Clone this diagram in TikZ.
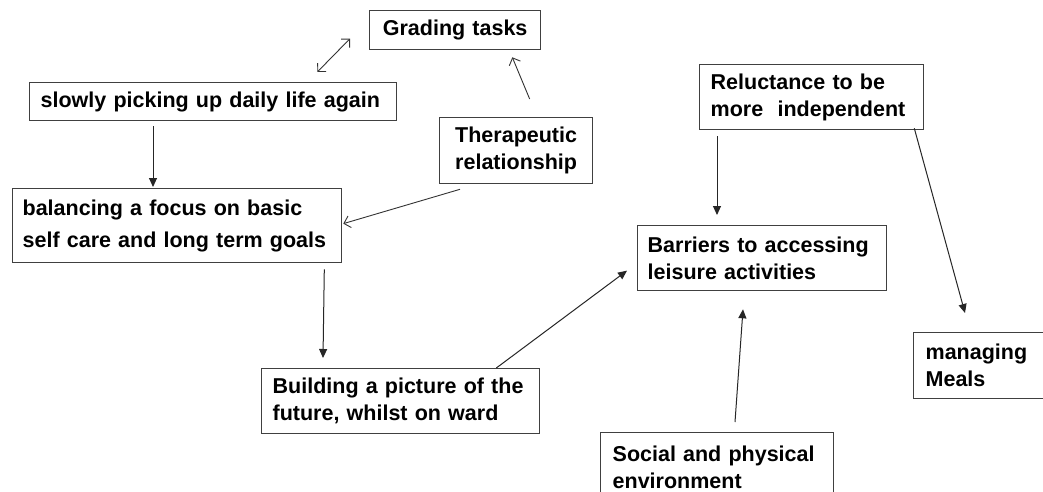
\documentclass[tikz,border=0pt]{standalone}
\usepackage{fontspec}
\setmainfont{Liberation Sans}
\usetikzlibrary{arrows.meta}
\newcommand{\ind}[1][11pt]{\hspace*{#1}}
\begin{document}
\begin{tikzpicture}[x=1pt,y=-1pt,
  box/.style={draw=black!75, line width=1.3pt, anchor=north west, inner xsep=0pt, inner ysep=0pt,
    font=\bfseries\fontsize{21.5}{27}\selectfont, align=left},
  fa/.style={draw=black!85, line width=1pt, -{Triangle[length=9pt,width=8pt]}},
  oa/.style={draw=black!80, line width=0.9pt, -{Straight Barb[length=6pt,width=12pt]}},
  oaa/.style={draw=black!80, line width=0.9pt, {Straight Barb[length=6pt,width=12pt]}-{Straight Barb[length=6pt,width=12pt]}},
]
\clip (0,0) rectangle (1043,492);
\fill[white] (0,0) rectangle (1043,492);

\node[box, minimum width=171pt, minimum height=39pt, text width=171pt, align=center] (grading) at (369,10) {Grading tasks};
\node[box, minimum width=367pt, minimum height=38pt, text width=367pt] (slowly) at (29,82) {\ind slowly picking up daily life again};
\node[box, minimum width=153pt, minimum height=66pt, text width=153pt, align=center] (ther) at (439,117) {Therapeutic\\relationship};
\node[box, minimum width=329pt, minimum height=74pt, text width=329pt, font=\bfseries\fontsize{21.5}{32}\selectfont] (bal) at (12,188) {\ind[10pt]balancing a focus on basic\\\ind[10pt]self care and long term goals};
\node[box, minimum width=278pt, minimum height=65pt, text width=278pt] (bld) at (261,368) {\ind Building a picture of the\\\ind future, whilst on ward};
\node[box, minimum width=249pt, minimum height=65pt, text width=249pt] (bar) at (637,225) {\ind[10pt]Barriers to accessing\\\ind[10pt]leisure activities};
\node[box, minimum width=224pt, minimum height=65pt, text width=224pt] (rel) at (699,64) {\ind Reluctance to be\\\ind more~ independent};
\node[box, minimum width=150pt, minimum height=66pt, text width=150pt] (meals) at (913,332) {\ind[12pt]managing\\\ind[12pt]Meals};
\node[box, minimum width=233pt, minimum height=70pt, text width=233pt] (soc) at (600,432) {\ind[12pt]Social and physical\\\ind[12pt]environment};

\draw[oaa] ([xshift=-80pt,yshift=10pt]slowly.north east) -- ([xshift=-19pt,yshift=-8.5pt]grading.west);
\draw[oa] ([xshift=13.5pt,yshift=18pt]ther.north) -- ([xshift=-29pt,yshift=-7pt]grading.south east);
\draw[fa] ([xshift=124pt,yshift=-5pt]slowly.south west) -- ([xshift=141pt,yshift=1pt]bal.north west);
\draw[oa] ([xshift=21pt,yshift=-5pt]ther.south west) -- ([xshift=1pt,yshift=2pt]bal.east);
\draw[fa] ([xshift=-18pt,yshift=-6pt]bal.south east) -- ([xshift=62pt,yshift=10pt]bld.north west);
\draw[fa] ([xshift=-44pt]bld.north east) -- ([xshift=-10pt,yshift=-12.5pt]bar.west);
\draw[fa] ([xshift=18pt,yshift=-6pt]rel.south west) -- ([xshift=80pt,yshift=10pt]bar.north west);
\draw[fa] ([xshift=-10pt,yshift=2pt]rel.south east) -- ([xshift=52pt,yshift=19pt]meals.north west);
\draw[fa] ([xshift=135pt,yshift=10pt]soc.north west) -- ([xshift=106pt,yshift=-18pt]bar.south west);
\end{tikzpicture}
\end{document}
